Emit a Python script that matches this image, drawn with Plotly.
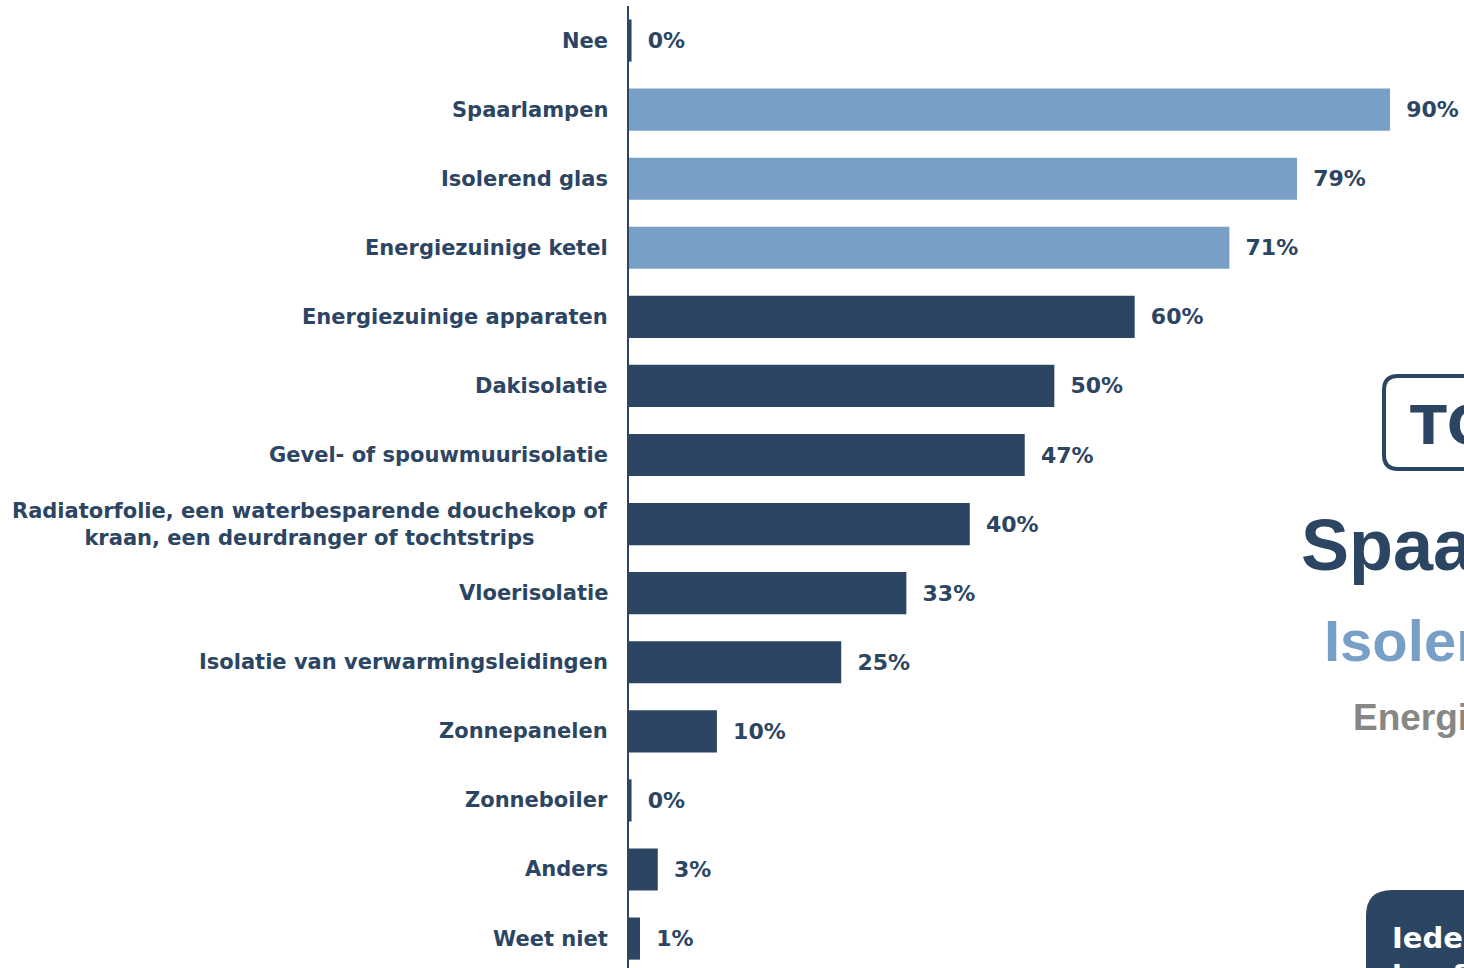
import plotly.graph_objects as go

# ---- data ----
categories = [
    "Nee", "Spaarlampen", "Isolerend glas", "Energiezuinige ketel",
    "Energiezuinige apparaten", "Dakisolatie", "Gevel- of spouwmuurisolatie",
    "Radiatorfolie, een waterbesparende douchekop of<br>kraan, een deurdranger of tochtstrips",
    "Vloerisolatie", "Isolatie van verwarmingsleidingen", "Zonnepanelen",
    "Zonneboiler", "Anders", "Weet niet",
]
values = [0.3, 90, 79, 71, 59.8, 50.3, 46.8, 40.3, 32.8, 25.1, 10.4, 0.3, 3.4, 1.3]
highlight = [False, True, True, True, False, False, False, False, False, False, False, False, False, False]

DARK = "#2c4563"
LIGHT = "#789fc6"
GRAY = "#878783"
FONT = "DejaVu Sans"

W, H = 1464, 968
ML, MR, MT, MB = 629, 0, 6, 0
PW, PH = W - ML - MR, H - MT - MB


def px(x):
    return (x - ML) / PW


def py(y):
    return (H - MB - y) / PH


colors = [LIGHT if h else DARK for h in highlight]

fig = go.Figure(go.Bar(
    y=categories, x=values, orientation="h",
    marker=dict(color=colors, line=dict(width=0)),
    text=[f"\u00a0\u2005{round(v)}%" for v in values],
    textposition="outside", cliponaxis=False, constraintext="none",
    textfont=dict(family=FONT, size=22, color=DARK, weight="bold"),
    hoverinfo="skip",
))

annotations = []
for c in categories:
    annotations.append(dict(
        x=0, xref="paper", y=c, yref="y", xanchor="right", yanchor="middle",
        xshift=-19, text=f"<b>{c}</b>", showarrow=False, align="center",
        font=dict(family=FONT, size=21, color=DARK),
    ))

# decorative remnants of the neighbouring panel
annotations += [
    dict(x=px(1408), y=py(425), xref="paper", yref="paper", xanchor="left", yanchor="middle",
         text="<b>TOP 3</b>", showarrow=False, font=dict(family=FONT, size=54, color=DARK)),
    dict(x=px(1299), y=py(545), xref="paper", yref="paper", xanchor="left", yanchor="middle",
         text="<b>Spaarlampen</b>", showarrow=False,
         font=dict(family="Liberation Sans", size=72, color=DARK)),
    dict(x=px(1322), y=py(640), xref="paper", yref="paper", xanchor="left", yanchor="middle",
         text="<b>Isolerend glas</b>", showarrow=False,
         font=dict(family="Liberation Sans", size=58, color=LIGHT)),
    dict(x=px(1351), y=py(717), xref="paper", yref="paper", xanchor="left", yanchor="middle",
         text="<b>Energiezuinige ketel</b>", showarrow=False,
         font=dict(family="Liberation Sans", size=37, color=GRAY)),
    dict(x=px(1390), y=py(919), xref="paper", yref="paper", xanchor="left", yanchor="top",
         text="<b>Iedereen<br>heeft</b>", showarrow=False, align="left",
         font=dict(family="DejaVu Sans", size=29, color="white")),
]


def rounded_left_box(x0, y0, x1, y1, r):
    pts = [
        f"M{px(x0 + r)},{py(y0)}", f"L{px(x1)},{py(y0)}", f"L{px(x1)},{py(y1)}",
        f"L{px(x0 + r)},{py(y1)}", f"Q{px(x0)},{py(y1)} {px(x0)},{py(y1 - r)}",
        f"L{px(x0)},{py(y0 + r)}", f"Q{px(x0)},{py(y0)} {px(x0 + r)},{py(y0)}", "Z",
    ]
    return " ".join(pts)


shapes = [
    dict(type="path", xref="paper", yref="paper", path=rounded_left_box(1384, 376, 1500, 469, 14),
         line=dict(color=DARK, width=4), fillcolor="rgba(0,0,0,0)"),
    dict(type="path", xref="paper", yref="paper", path=rounded_left_box(1366, 890, 1500, 1010, 26),
         line=dict(color=DARK, width=0), fillcolor=DARK),
]

fig.update_layout(
    width=W, height=H,
    margin=dict(l=ML, r=MR, t=MT, b=MB, pad=0),
    paper_bgcolor="white", plot_bgcolor="white",
    bargap=0.39, showlegend=False,
    xaxis=dict(range=[0, PW / 8.456], visible=False, fixedrange=True),
    yaxis=dict(type="category", categoryorder="array", categoryarray=categories,
               range=[13.426, -0.5], showticklabels=False, showgrid=False, zeroline=False,
               showline=True, linecolor=DARK, linewidth=2, ticks="", fixedrange=True),
    annotations=annotations, shapes=shapes,
)

fig.write_html("out.html", config={"displayModeBar": False},
               post_script="document.body.style.margin='0';document.body.style.overflow='hidden';")
